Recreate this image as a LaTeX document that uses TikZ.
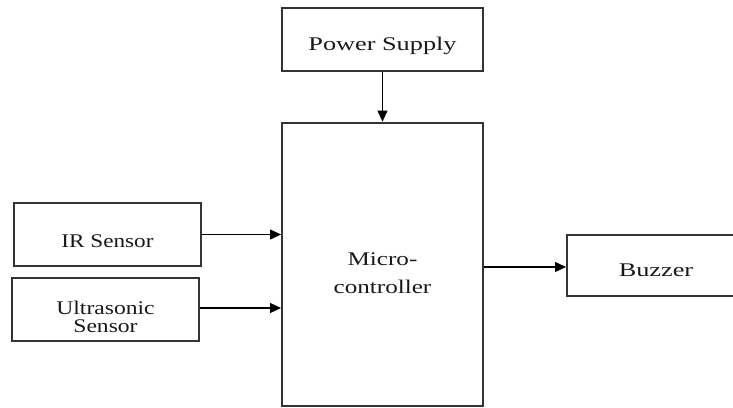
\documentclass[tikz,border=0pt]{standalone}
\usepackage{fontspec}
\setmainfont{Liberation Serif}
\usepackage{graphicx}
\usetikzlibrary{arrows.meta}
% text of the original is stretched sideways and sits a little low in its box
\newcommand{\wide}[3]{\raisebox{-#2}[\height][\depth]{\scalebox{#1}[1]{\begin{tabular}{@{}c@{}}#3\end{tabular}}}}

\begin{document}
\begin{tikzpicture}[
    x=0.02cm, y=-0.02cm,
    font=\fontsize{11}{16}\selectfont, >={Triangle[length=2.2mm, width=2mm]},
    block/.style={draw=black!80, line width=1.1pt, inner sep=0pt, text=black!90,
                  minimum width=4.02cm, minimum height=1.26cm},
    sensor/.style={block, minimum width=3.74cm},
    flow/.style={->, line width=0.6pt}]
  \clip (0,0) rectangle (733,407);
  \node[block] (power) at (382.5,39.5) {\wide{1.36}{1mm}{Power Supply}};
  \node[block, minimum height=5.67cm] (micro) at (382.5,264.3)
    {\wide{1.3}{2mm}{Micro-\\controller}};
  \node[sensor] (ir) at (107.5,234.5) {\wide{1.2}{1.4mm}{IR Sensor}};
  \node[sensor, font=\fontsize{11}{10.5}\selectfont] (ultra) at (105.5,309.5)
    {\wide{1.22}{2mm}{Ultrasonic\\Sensor}};
  \node[block, minimum width=3.56cm, minimum height=1.22cm] (buzzer) at (656,265.5)
    {\wide{1.36}{1mm}{Buzzer}};
  \draw[flow] (power) -- (micro);
  \draw[flow] (ir.east) -- (ir.east -| micro.west);
  \draw[flow] (ultra.east |- 0,308) -- (micro.west |- 0,308);
  \draw[flow] (micro.east |- 0,267) -- (buzzer.west |- 0,267);
\end{tikzpicture}
\end{document}
